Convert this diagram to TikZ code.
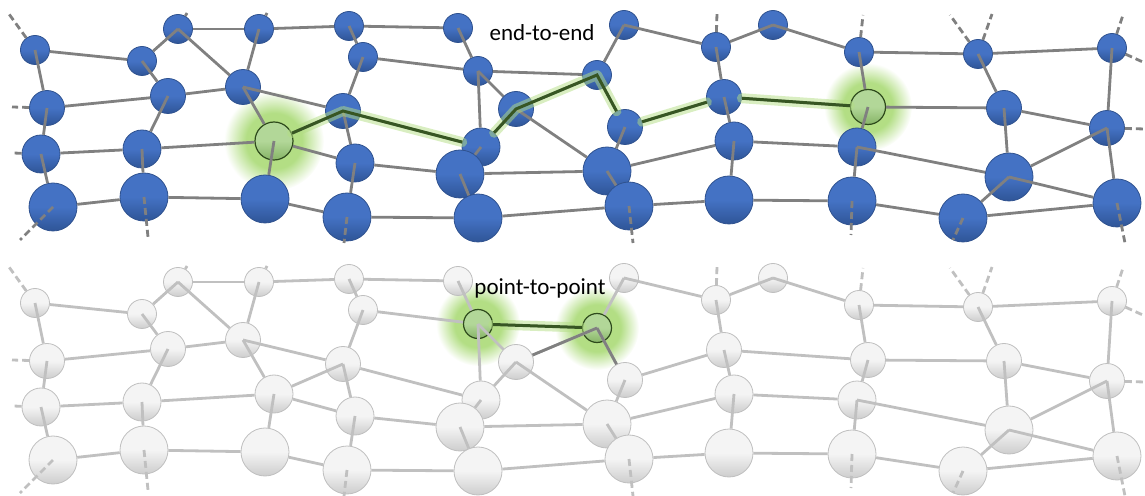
\documentclass[tikz,border=0pt]{standalone}
\usepackage{fontspec}
\setmainfont{Carlito}
\usetikzlibrary{backgrounds}

\definecolor{netblue}{HTML}{4472C4}
\definecolor{netrim}{HTML}{2F5597}
\definecolor{netline}{HTML}{2F528F}
\definecolor{wire}{HTML}{808080}
\definecolor{palefill}{HTML}{F4F4F4}
\definecolor{palerim}{HTML}{CDCDCD}
\definecolor{paleline}{HTML}{BFBFBF}
\definecolor{palewire}{HTML}{C0C0C0}
\definecolor{hubtop}{HTML}{B2D798}
\definecolor{hubbot}{HTML}{86B466}
\definecolor{hubline}{HTML}{2E4A1C}
\definecolor{pathgreen}{HTML}{375623}
\definecolor{glowgreen}{HTML}{92D050}
\colorlet{halo}{glowgreen!70!white}

\pgfdeclareradialshading{glow}{\pgfpoint{0bp}{0bp}}{color(0bp)=(halo); color(14bp)=(halo); color(25bp)=(white); color(50bp)=(white)}

\tikzset{
  sz1/.style={minimum size=14.5pt},
  sz2/.style={minimum size=17.5pt},
  sz3/.style={minimum size=19pt},
  sz4/.style={minimum size=24pt},
  hl G1/.style={}, hl G2/.style={}, hl E2/.style={}, hl F2/.style={},
  hub/.style={top color=hubtop, bottom color=hubbot, middle color=hubtop, draw=hubline, line width=0.6pt},
  blue net/.style={
    ball/.style={circle, inner sep=0pt, draw=netline, line width=0.4pt, top color=netblue, bottom color=netrim, middle color=netblue},
    link/.style={draw=wire, line width=1.4pt},
    stub/.style={draw=wire, line width=1.4pt, dash pattern=on 3.5pt off 2pt}},
  pale net/.style={
    ball/.style={circle, inner sep=0pt, draw=paleline, line width=0.4pt, top color=palefill, bottom color=palerim, middle color=palefill},
    link/.style={draw=palewire, line width=1.4pt},
    stub/.style={draw=palewire, line width=1.4pt, dash pattern=on 3.5pt off 2pt}},
  hot glow/.style={draw=halo, line width=5pt, line cap=round, line join=round, opacity=0.5},
  hot path/.style={draw=pathgreen, line width=1.5pt},
  tag/.style={font=\fontsize{11.5}{13}\selectfont, inner sep=1pt}
}

\newcommand\meshnet{%
  \node[ball,sz1] (A1) at (35,50) {};
  \node[ball,sz1] (A2) at (178,29) {};
  \node[ball,sz1] (A3) at (259,29) {};
  \node[ball,sz1] (A4) at (349,26) {};
  \node[ball,sz1] (A5) at (142,61) {};
  \node[ball,sz1] (A6) at (363,57) {};
  \node[ball,sz2] (B1) at (47,108) {};
  \node[ball,sz2] (B2) at (168,96) {};
  \node[ball,sz2] (B3) at (243,87) {};
  \node[ball,sz2] (B4) at (343,111) {};
  \node[ball,sz3] (C1) at (41,154) {};
  \node[ball,sz3] (C2) at (142,149) {};
  \node[ball,sz3,hl G1] (G1) at (274,141) {};
  \node[ball,sz3] (C4) at (355,163) {};
  \node[ball,sz4] (D1) at (53,207) {};
  \node[ball,sz4] (D2) at (144,197) {};
  \node[ball,sz4] (D3) at (265,199) {};
  \node[ball,sz4] (D4) at (347,217) {};
  \node[ball,sz1] (E1) at (458,28) {};
  \node[ball,sz1,hl E2] (E2) at (478,71) {};
  \node[ball,sz2] (E3) at (516,109) {};
  \node[ball,sz3] (E4) at (481,147) {};
  \node[ball,sz4] (E5) at (460,174) {};
  \node[ball,sz4] (E6) at (478,218) {};
  \node[ball,sz1] (F1) at (624,25) {};
  \node[ball,sz1,hl F2] (F2) at (597,75) {};
  \node[ball,sz2] (F3) at (625,127) {};
  \node[ball,sz4] (F4) at (607,171) {};
  \node[ball,sz4] (F5) at (629,206) {};
  \node[ball,sz1] (H1) at (716,47) {};
  \node[ball,sz2] (H2) at (724,97) {};
  \node[ball,sz3] (H3) at (734,141) {};
  \node[ball,sz4] (H4) at (729,200) {};
  \node[ball,sz1] (I1) at (773,25) {};
  \node[ball,sz1] (J1) at (859,52) {};
  \node[ball,sz2,hl G2] (G2) at (868,107) {};
  \node[ball,sz3] (J3) at (857,147) {};
  \node[ball,sz4] (J4) at (852,201) {};
  \node[ball,sz1] (K1) at (978,54) {};
  \node[ball,sz2] (K2) at (1004,108) {};
  \node[ball,sz4] (K3) at (1009,177) {};
  \node[ball,sz4] (K4) at (963,218) {};
  \node[ball,sz1] (L1) at (1112,48) {};
  \node[ball,sz2] (L2) at (1107,128) {};
  \node[ball,sz4] (L3) at (1117,203) {};
  \coordinate (sA1) at (9,14);
  \coordinate (sB1) at (12,107);
  \coordinate (sC1) at (13,153);
  \coordinate (sD1) at (20,240);
  \coordinate (sD2) at (148,237);
  \coordinate (sA2) at (187,13);
  \coordinate (sA3) at (267,13);
  \coordinate (sD4) at (344,243);
  \coordinate (sH1) at (717,13);
  \coordinate (sF5) at (633,243);
  \coordinate (sJ1) at (863,15);
  \coordinate (sK1a) at (950,15);
  \coordinate (sK1b) at (992,14);
  \coordinate (sL1a) at (1123,15);
  \coordinate (sL1b) at (1145,63);
  \coordinate (sL2) at (1145,129);
  \coordinate (sJ4) at (851,235);
  \coordinate (sK4) at (953,240);
  \coordinate (sL3) at (1125,243);
  \draw[stub] (A1) -- (sA1);
  \draw[stub] (B1) -- (sB1);
  \draw[stub] (C1) -- (sC1);
  \draw[stub] (D1.center) -- (sD1);
  \draw[stub] (D2.center) -- (sD2);
  \draw[stub] (A2) -- (sA2);
  \draw[stub] (A3) -- (sA3);
  \draw[stub] (D4.center) -- (sD4);
  \draw[stub] (H1) -- (sH1);
  \draw[stub] (F5.center) -- (sF5);
  \draw[stub] (J1) -- (sJ1);
  \draw[stub] (K1) -- (sK1a);
  \draw[stub] (K1) -- (sK1b);
  \draw[stub] (L1) -- (sL1a);
  \draw[stub] (L1) -- (sL1b);
  \draw[stub] (L2) -- (sL2);
  \draw[stub] (J4.center) -- (sJ4);
  \draw[stub] (K4.center) -- (sK4);
  \draw[stub] (L3.center) -- (sL3);
  \draw[link] (A1) -- (A5);
  \draw[link] (A1.center) -- (B1);
  \draw[link] (A2.center) -- (A5);
  \draw[link] (A2) -- (A3);
  \draw[link] (A2.center) -- (B3);
  \draw[link] (A3) -- (A4);
  \draw[link] (A3.center) -- (B3);
  \draw[link] (A4.center) -- (A6);
  \draw[link] (A4) -- (E1);
  \draw[link] (A5.center) -- (B2);
  \draw[link] (A6.center) -- (B4);
  \draw[link] (A6) -- (E2);
  \draw[link] (B1) -- (B2);
  \draw[link] (B1.center) -- (C1);
  \draw[link] (B2) -- (B3);
  \draw[link] (B2.center) -- (C2);
  \draw[link] (B3.center) -- (B4);
  \draw[link] (B3.center) -- (G1);
  \draw[link] (B4.center) -- (G1);
  \draw[link] (B4.center) -- (C4);
  \draw[link] (B4) -- (E4);
  \draw[link] (C1) -- (C2);
  \draw[link] (C1.center) -- (D1);
  \draw[link] (C2) -- (G1);
  \draw[link] (C2.center) -- (D2);
  \draw[link] (G1) -- (C4);
  \draw[link] (G1.center) -- (D3);
  \draw[link] (C4.center) -- (D4);
  \draw[link] (C4) -- (E5);
  \draw[link] (D1) -- (D2);
  \draw[link] (D2) -- (D3);
  \draw[link] (D3) -- (D4);
  \draw[link] (D4) -- (E6);
  \draw[link] (E1.center) -- (E2);
  \draw[link] (E2) -- (F2);
  \draw[link] (E2.center) -- (E3);
  \draw[link] (E2.center) -- (E4);
  \draw[link] (E3.center) -- (E4);
  \draw[link] (E3.center) -- (F4);
  \draw[link] (E4.center) -- (E5);
  \draw[link] (E5.center) -- (E6);
  \draw[link] (E5) -- (F4);
  \draw[link] (E6) -- (F5);
  \draw[link] (F1.center) -- (F2);
  \draw[link] (F1.center) -- (H1);
  \draw[link] (F2.center) -- (E3);
  \draw[link] (F2.center) -- (F3);
  \draw[link] (F3.center) -- (F4);
  \draw[link] (F3) -- (H2);
  \draw[link] (F4.center) -- (F5);
  \draw[link] (F4) -- (H3);
  \draw[link] (F5) -- (H4);
  \draw[link] (H1.center) -- (H2);
  \draw[link] (I1.center) -- (H1);
  \draw[link] (H2.center) -- (H3);
  \draw[link] (H2) -- (G2);
  \draw[link] (H3.center) -- (H4);
  \draw[link] (H3) -- (J3);
  \draw[link] (H4) -- (J4);
  \draw[link] (I1.center) -- (J1);
  \draw[link] (J1.center) -- (G2);
  \draw[link] (J1) -- (K1);
  \draw[link] (G2.center) -- (J3);
  \draw[link] (G2) -- (K2);
  \draw[link] (J3.center) -- (J4);
  \draw[link] (J3.center) -- (K3);
  \draw[link] (J4) -- (K4);
  \draw[link] (K1.center) -- (K2);
  \draw[link] (K1) -- (L1);
  \draw[link] (K2) -- (L2);
  \draw[link] (K2.center) -- (K3);
  \draw[link] (K3.center) -- (K4);
  \draw[link] (K3.center) -- (L3);
  \draw[link] (L2.center) -- (K3);
  \draw[link] (K4) -- (L3);
  \draw[link] (L1.center) -- (L2);
  \draw[link] (L2.center) -- (L3);
}

\begin{document}
\begin{tikzpicture}[x=0.5pt, y=-0.5pt]
  \useasboundingbox (0,0) rectangle (1145,496);

  \begin{scope}[blue net, name prefix=t-, hl G1/.style=hub, hl G2/.style=hub]
    \meshnet
    \begin{pgfonlayer}{background}
      \shade[shading=glow] (G1) circle (25pt);
      \shade[shading=glow] (G2) circle (22pt);
    \end{pgfonlayer}
    \draw[hot glow] (G1) -- (B4.center) -- (E4) -- (E3.center) -- (F2.center) -- (F3) -- (H2) -- (G2);
    \draw[hot path] (G1) -- (B4.center) -- (E4) -- (E3.center) -- (F2.center) -- (F3) -- (H2) -- (G2);
    \node[tag] (e2e) at (542,33) {end-to-end};
  \end{scope}

  \begin{scope}[pale net, shift={(0,253)}, name prefix=b-, hl E2/.style=hub, hl F2/.style=hub]
    \meshnet
    \begin{pgfonlayer}{background}
      \shade[shading=glow] (E2) circle (21pt);
      \shade[shading=glow] (F2) circle (21pt);
    \end{pgfonlayer}
    \draw[link, draw=wire] (F2.center) -- (E3);
    \draw[link, draw=wire] (F2.center) -- (F3);
    \draw[hot glow] (E2) -- (F2);
    \draw[hot path] (E2) -- (F2);
    \node[tag] (p2p) at (540,35) {point-to-point};
  \end{scope}
\end{tikzpicture}
\end{document}
